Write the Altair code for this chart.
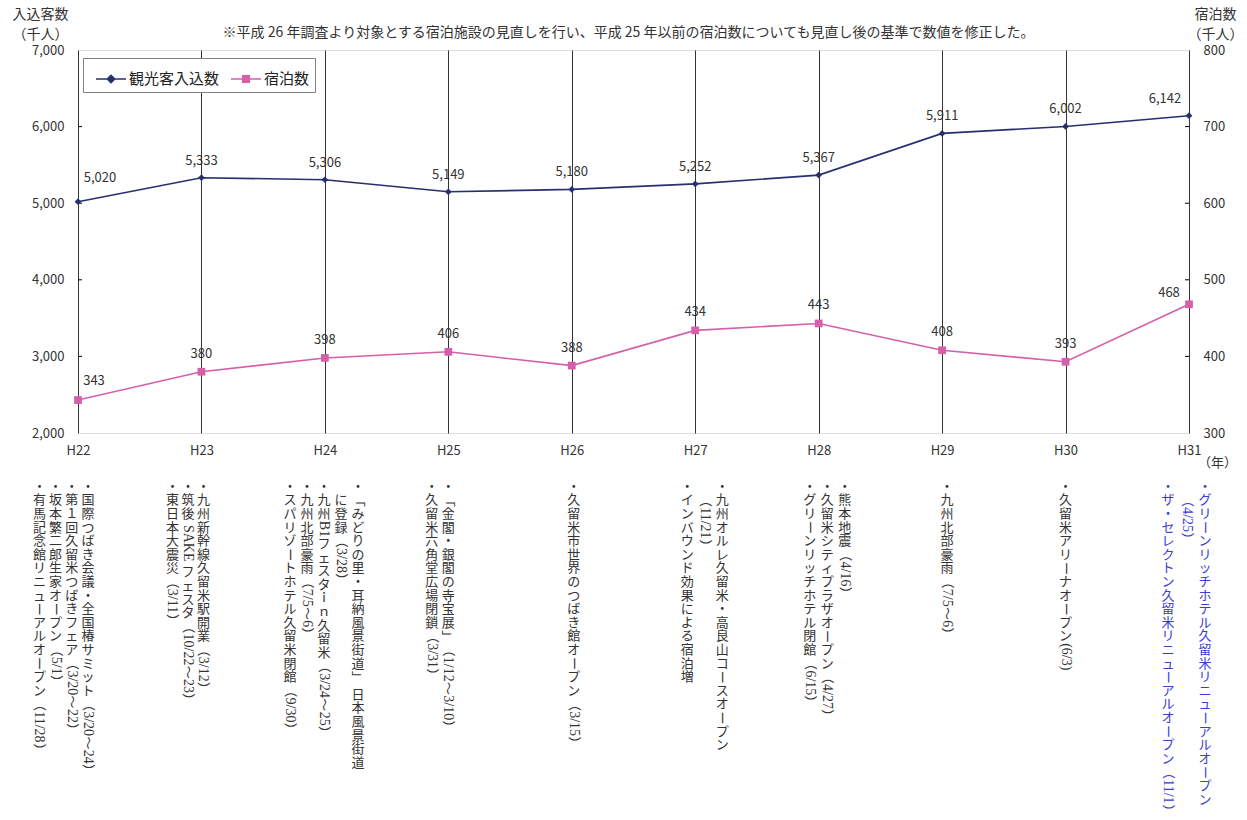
import altair as alt
import pandas as pd

# ---------------- data ----------------
years = ["H22", "H23", "H24", "H25", "H26", "H27", "H28", "H29", "H30", "H31"]
visitors = [5020, 5333, 5306, 5149, 5180, 5252, 5367, 5911, 6002, 6142]
stays = [343, 380, 398, 406, 388, 434, 443, 408, 393, 468]
series_names = ["観光客入込数", "宿泊数"]
note_text = "※平成 26 年調査より対象とする宿泊施設の見直しを行い、平成 25 年以前の宿泊数についても見直し後の基準で数値を修正した。"
left_title = ["入込客数", "（千人）"]
right_title = ["宿泊数", "（千人）"]
year_unit = "（年）"
left_ticks = [2000, 3000, 4000, 5000, 6000, 7000]
right_ticks = [300, 400, 500, 600, 700, 800]
highlight_year = "H31"

events_by_year = [
    ["・国際つばき会議・全国椿サミット（3/20～24）",
     "・第１回久留米つばきフェア（3/20～22）",
     "・坂本繁二郎生家オープン（5/1）",
     "・有馬記念館リニューアルオープン（11/28）"],
    ["・九州新幹線久留米駅開業（3/12）",
     "・筑後 SAKE フェスタ（10/22～23）",
     "・東日本大震災（3/11）"],
    ["・「みどりの里・耳納風景街道」 日本風景街道",
     "　に登録（3/28）",
     "・九州B1フェスタｉｎ久留米（3/24～25）",
     "・九州北部豪雨（7/5～6）",
     "・スパリゾートホテル久留米閉館（9/30）"],
    ["・「金閣・銀閣の寺宝展」（1/12～3/10）",
     "・久留米六角堂広場閉鎖（3/31）"],
    ["・久留米市世界のつばき館オープン（3/15）"],
    ["・九州オルレ久留米・高良山コースオープン",
     "　（11/21）",
     "・インバウンド効果による宿泊増"],
    ["・熊本地震（4/16）",
     "・久留米シティプラザオープン（4/27）",
     "・グリーンリッチホテル閉館（6/15）"],
    ["・九州北部豪雨（7/5～6）"],
    ["・久留米アリーナオープン(6/3)"],
    ["・グリーンリッチホテル久留米リニューアルオープン",
     "　（4/25）",
     "・ザ・セレクトン久留米リニューアルオープン（11/1）"],
]

# ---------------- style / layout ----------------
FONT = "Noto Sans CJK JP"
LATIN_FONT = "Liberation Serif"
NAVY = "#27306F"
PINK = "#D65FAA"
TEXT = "#333333"
BLUE = "#3B3BD9"
W, H = 1111, 383
EM = 13.6          # vertical pitch of one full-width character (px)
ANN_FS = 13
LATIN_FS = 14
ANN_TOP = 430.0    # top of annotation columns, px below plot top
COL_FIRST = [10, 2, 33, 0, 2, 27, 26, 5, 0, 16]
COL_PITCH = [16.2, 15.5, 17, 16.5, 17, 17.5, 17.5, 17, 17, 18.5]
LATIN_W = {"/": .278, "(": .333, ")": .333, "S": .556, "A": .722,
           "K": .722, "E": .611, "B": .667}
ROTATED = set("（）「」～ー")

# build per-character table for vertical (tategaki) annotations
cjk_rows, lat_rows = [], []
for i, (yr, lines) in enumerate(zip(years, events_by_year)):
    col = BLUE if yr == highlight_year else TEXT
    for j, line in enumerate(lines):
        off = COL_FIRST[i] - j * COL_PITCH[i]
        pos = 0.0
        run = ""
        for ch in line + "\n":
            if ch.isascii() and ch not in " \n":
                run += ch
                continue
            if run:
                lat_rows.append(dict(year=yr, off=off, v=pos, t=run, col=col))
                pos += sum(LATIN_W.get(c, .5) for c in run) * LATIN_FS / EM
                run = ""
            if ch == "\n":
                break
            if ch == " ":
                pos += 0.3
                continue
            if ch == "　":
                pos += 1
                continue
            cjk_rows.append(dict(year=yr, off=off, v=pos + 0.5, t=ch,
                                 ang=90 if ch in ROTATED else 0, col=col))
            pos += 1
cjk_df = pd.DataFrame(cjk_rows)
lat_df = pd.DataFrame(lat_rows)

n = len(years)
navy_df = pd.DataFrame({"year": years, "value": visitors, "idx": list(range(n))})
pink_df = pd.DataFrame({"year": years, "value": stays, "idx": list(range(n))})

x_axis = alt.Axis(title=year_unit, titleX=1139, titleY=29, titleAngle=0,
                  titleAlign="center", titleBaseline="middle", titleFont=FONT,
                  titleFontSize=13, titleFontWeight="normal", titleColor=TEXT,
                  labelAngle=0, labelFont=FONT, labelFontSize=13, labelColor=TEXT,
                  labelPadding=11, ticks=False, domain=False, grid=True,
                  gridColor="#333333", gridWidth=1, gridOpacity=1)
x_enc = alt.X("year:N", scale=alt.Scale(type="point", padding=0, domain=years), axis=x_axis)

def y_axis(title, orient, values, tx):
    return alt.Axis(title=title, orient=orient, titleAngle=0, titleX=tx, titleY=-43,
                    titleAlign="center", titleBaseline="top", titleLineHeight=20,
                    titleFont=FONT, titleFontSize=14, titleFontWeight="normal",
                    titleColor=TEXT, values=values,
                    labelExpr="format(datum.value, ',')", labelFont=FONT,
                    labelFontSize=13, labelColor=TEXT, labelPadding=14,
                    ticks=False, domain=False, grid=False)

yl = alt.Y("value:Q", scale=alt.Scale(domain=[2000, 7000], zero=False, nice=False),
           axis=y_axis(left_title, "left", left_ticks, -38))
yr_ = alt.Y("value:Q", scale=alt.Scale(domain=[300, 800], zero=False, nice=False),
            axis=y_axis(right_title, "right", right_ticks, 26))

lbl = dict(font=FONT, fontSize=13, color=TEXT)

def series_layer(df, y, ticks, tick_x, color, shape, size, fmt, first, mid, last):
    base = alt.Chart(df)
    line = base.mark_line(color=color, strokeWidth=1.6).encode(x=x_enc, y=y)
    pts = base.mark_point(shape=shape, filled=True, size=size, color=color,
                          opacity=1).encode(x=x_enc, y=y)
    txt = alt.Text("value:Q", format=fmt)
    l1 = base.transform_filter("datum.idx == 0").mark_text(
        dx=first[0], dy=first[1], **lbl).encode(x=x_enc, y=y, text=txt)
    l2 = base.transform_filter(f"datum.idx > 0 && datum.idx < {n - 1}").mark_text(
        dy=mid, **lbl).encode(x=x_enc, y=y, text=txt)
    l3 = base.transform_filter(f"datum.idx == {n - 1}").mark_text(
        dx=last[0], dy=last[1], **lbl).encode(x=x_enc, y=y, text=txt)
    tk = alt.Chart(pd.DataFrame({"value": ticks[1:-1]})).mark_rule(
        color="#000000", strokeWidth=1).encode(
        y=y, x=alt.value(tick_x[0]), x2=alt.value(tick_x[1]))
    return alt.layer(tk, line, pts, l1, l2, l3)

navy_layer = series_layer(navy_df, yl, left_ticks, (0, 4), NAVY, "diamond", 45, ",",
                          (22, -24), -17, (-24, -17))
pink_layer = series_layer(pink_df, yr_, right_ticks, (W - 4, W), PINK, "square", 60, "d",
                          (16, -19), -18, (-20, -11))

ann_y = alt.Y("v:Q", scale=alt.Scale(domain=[-ANN_TOP / EM, (H - ANN_TOP) / EM],
                                     reverse=True, zero=False, nice=False), axis=None)
cjk_layer = alt.Chart(cjk_df).mark_text(font=FONT, fontSize=ANN_FS, align="center",
                                        baseline="middle").encode(
    x=x_enc, xOffset=alt.XOffset("off:Q", scale=None), y=ann_y, text="t:N",
    angle=alt.Angle("ang:Q", scale=None), color=alt.Color("col:N", scale=None))
lat_layer = alt.Chart(lat_df).mark_text(font=LATIN_FONT, fontSize=LATIN_FS, align="left",
                                        baseline="middle", angle=90).encode(
    x=x_enc, xOffset=alt.XOffset("off:Q", scale=None), y=ann_y, text="t:N",
    color=alt.Color("col:N", scale=None))
ann_layer = alt.layer(cjk_layer, lat_layer)

PATH_D = "M-1,0H1M0,-0.25L0.25,0L0,0.25L-0.25,0Z"
PATH_S = "M-1,0H1M-0.22,-0.22H0.22V0.22H-0.22Z"
leg = alt.Legend(title=None, orient="none", legendX=5, legendY=8, direction="horizontal",
                 fillColor="white", strokeColor="#808080", padding=5, symbolSize=900,
                 symbolStrokeWidth=1.5, symbolOffset=7, labelOffset=2, labelFont=FONT,
                 labelFontSize=15, labelColor="#222222", columnPadding=3)
legend_layer = alt.Chart(pd.DataFrame({"series": series_names})).transform_filter(
    "false").mark_point(filled=True, strokeWidth=1.5, opacity=1).encode(
    fill=alt.Fill("series:N", scale=alt.Scale(domain=series_names, range=[NAVY, PINK]), legend=leg),
    stroke=alt.Stroke("series:N", scale=alt.Scale(domain=series_names, range=[NAVY, PINK]), legend=leg),
    shape=alt.Shape("series:N", scale=alt.Scale(domain=series_names, range=[PATH_D, PATH_S]), legend=leg),
)

chart = alt.layer(navy_layer, pink_layer, ann_layer, legend_layer).resolve_scale(
    y="independent"
).properties(
    width=W, height=H,
    padding={"left": 78, "top": 50, "right": 58, "bottom": 387},
    autosize=alt.AutoSizeParams(type="none"),
    title=alt.TitleParams(note_text, anchor="middle", font=FONT, fontSize=14,
                          fontWeight="normal", color=TEXT, baseline="middle",
                          offset=-40, dx=-5),
).configure_view(stroke="#000000", strokeWidth=2).configure(background="white")

chart.save("out.html", embed_options={"renderer": "svg", "actions": False})
